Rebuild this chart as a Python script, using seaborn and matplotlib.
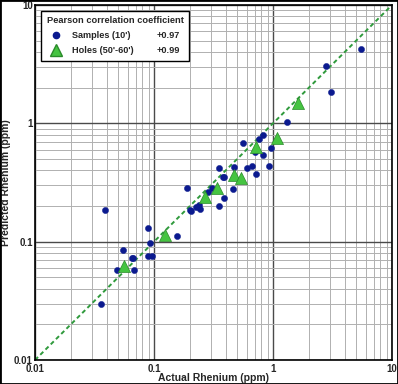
import matplotlib
matplotlib.use("Agg")
import matplotlib.pyplot as plt
import matplotlib.ticker as mticker
from matplotlib.lines import Line2D
import seaborn as sns
import pandas as pd

sns.set_theme(style="white")
plt.rcParams["font.family"] = ["Liberation Sans", "DejaVu Sans"]

# Samples (10') - actual vs predicted rhenium, ppm
sample_actual = [0.036, 0.039, 0.049, 0.055, 0.065, 0.066, 0.068, 0.089, 0.089, 0.096,
                 0.092, 0.157, 0.189, 0.200, 0.205, 0.225, 0.240, 0.245, 0.283, 0.307,
                 0.351, 0.380, 0.390, 0.390, 0.351, 0.460, 0.470, 0.610, 0.670, 0.720,
                 0.560, 0.700, 0.760, 0.820, 0.960, 0.820, 0.930, 1.31, 2.79, 3.07, 5.48]
sample_pred = [0.030, 0.185, 0.058, 0.085, 0.073, 0.073, 0.058, 0.131, 0.076, 0.076,
               0.097, 0.112, 0.284, 0.185, 0.180, 0.197, 0.205, 0.190, 0.263, 0.284,
               0.420, 0.352, 0.352, 0.234, 0.200, 0.279, 0.430, 0.420, 0.440, 0.370,
               0.680, 0.570, 0.740, 0.790, 0.620, 0.540, 0.440, 1.03, 3.05, 1.84, 4.26]

# Holes (50'-60')
hole_actual = [0.056, 0.124, 0.268, 0.338, 0.470, 0.540, 0.720, 1.08, 1.62]
hole_pred = [0.062, 0.114, 0.238, 0.284, 0.366, 0.344, 0.630, 0.75, 1.49]

r_samples = "+0.97"
r_holes = "+0.99"
one_to_one = [0.01, 10]

samples = pd.DataFrame({"actual": sample_actual, "pred": sample_pred})
holes = pd.DataFrame({"actual": hole_actual, "pred": hole_pred})

fig = plt.figure(figsize=(3.98, 3.84), dpi=100)
ax = fig.add_axes([0.088, 0.0625, 0.897, 0.9245])
ax.set_xscale("log")
ax.set_yscale("log")
ax.set_xlim(0.01, 10)
ax.set_ylim(0.01, 10)

ax.grid(True, which="major", color="#4a4a4a", lw=1.0, zorder=0)
ax.grid(True, which="minor", color="#b0b0b0", lw=0.7, zorder=0)
ax.set_axisbelow(True)

ax.plot(one_to_one, one_to_one, ls=(0, (2.2, 1.6)), color="#2f9a3c", lw=1.4, zorder=2)

sns.scatterplot(data=samples, x="actual", y="pred", ax=ax, color="#0b1a8f",
                s=20, edgecolor="#0b1a8f", linewidth=0.3, zorder=3, legend=False)
sns.scatterplot(data=holes, x="actual", y="pred", ax=ax, marker="^", color="#45c441",
                s=75, edgecolor="#2a8a2a", linewidth=0.5, zorder=4, legend=False)

ax.xaxis.set_major_locator(mticker.LogLocator(base=10, numticks=5))
ax.yaxis.set_major_locator(mticker.LogLocator(base=10, numticks=5))
ax.xaxis.set_minor_locator(mticker.LogLocator(base=10, subs=range(2, 10), numticks=20))
ax.yaxis.set_minor_locator(mticker.LogLocator(base=10, subs=range(2, 10), numticks=20))
fmt = mticker.FuncFormatter(lambda v, p: f"{v:g}")
ax.xaxis.set_major_formatter(fmt)
ax.yaxis.set_major_formatter(fmt)
ax.xaxis.set_minor_formatter(mticker.NullFormatter())
ax.yaxis.set_minor_formatter(mticker.NullFormatter())
ax.tick_params(which="both", length=0, labelsize=7)
ax.tick_params(axis="x", pad=3.2)
ax.tick_params(axis="y", pad=1.5)
for lab in ax.get_xticklabels() + ax.get_yticklabels():
    lab.set_fontweight("bold")

ax.set_xlabel("Actual Rhenium (ppm)", fontsize=7.5, fontweight="bold", labelpad=-1)
ax.set_ylabel("Predicted Rhenium (ppm)", fontsize=7.5, fontweight="bold", labelpad=2)

for sp in ax.spines.values():
    sp.set_color("black")
    sp.set_linewidth(1.2)

handles = [
    Line2D([], [], ls="", marker="o", color="#0b1a8f", markersize=4.5),
    Line2D([], [], ls="", marker="^", color="#45c441", markeredgecolor="#2a8a2a", markersize=9),
    Line2D([], [], ls=""),
    Line2D([], [], ls=""),
]
labels = ["Samples (10')", "Holes (50'-60')", r_samples, r_holes]
leg = ax.legend(handles, labels, ncol=2, loc="upper left", bbox_to_anchor=(0.004, 0.996),
                title="Pearson correlation coefficient", fontsize=6.6,
                title_fontproperties={"weight": "bold", "size": 6.7},
                frameon=True, fancybox=False, edgecolor="black", framealpha=1,
                handlelength=1.4, handletextpad=1.0, columnspacing=0.2,
                borderpad=0.6, labelspacing=0.65, borderaxespad=0.5)
leg.get_frame().set_linewidth(1.0)
for t in leg.get_texts():
    t.set_fontweight("bold")

fig.add_artist(plt.Rectangle((0, 0), 1, 1, transform=fig.transFigure, fill=False,
                             ec="black", lw=2))

fig.savefig("out.png", dpi=100)
